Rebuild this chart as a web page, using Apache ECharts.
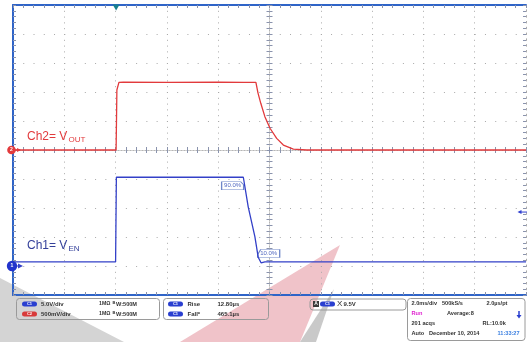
<!DOCTYPE html>
<html><head><meta charset="utf-8">
<script src="https://cdn.jsdelivr.net/npm/echarts@6/dist/echarts.min.js"></script>
<style>html,body{margin:0;padding:0;background:#fff}#c{width:527px;height:342px}</style>
</head><body><div id="c"></div><script>
// ---- data (time in ms relative to screen centre, amplitude in divisions from centre) ----
const redTime = [-10, -8, -7, -5.98, -5.95, -5.87, -5.7, -4, -2, -1, -0.53, -0.45, -0.34, -0.18, 0.02, 0.28, 0.54, 0.93, 1.45, 2.5, 4, 6, 8, 10];
const redDiv  = [0.0, 0.0, 0.0, 0.0, 2.07, 2.33, 2.34, 2.33, 2.34, 2.33, 2.33, 1.97, 1.61, 1.15, 0.75, 0.40, 0.17, 0.03, 0.0, 0.0, 0.0, 0.0, 0.0, 0.0];
const blueTime = [-10, -8, -6, -5.98, -5.97, -5, -3, -1.5, -1.02, -0.83, -0.57, -0.44, -0.33, -0.18, 2, 5, 8, 10];
const blueDiv  = [-3.86, -3.86, -3.86, -3.86, -0.94, -0.94, -0.94, -0.94, -0.94, -1.96, -2.99, -3.70, -3.89, -3.86, -3.86, -3.86, -3.86, -3.86];
const measLabels = ['90.0%', '10.0%'];
const measTime = [-0.97, -0.46];
const measLevel = [-1.23, -3.57];
const ch2Ground = 0, ch1Ground = -4;
const triggerTime = -5.98, triggerLevel = -2.14;
const scaleRows = [['C1', '5.0V/div', '1MΩ', 'W:500M'], ['C2', '500mV/div', '1MΩ', 'W:500M']];
const measRows = [['C1', 'Rise', '12.80µs'], ['C1', 'Fall*', '465.1µs']];
const trigInfo = '9.5V';
const acqRows = [['2.0ms/div', '500kS/s', '2.0µs/pt'], ['Run', 'Average:8'], ['201 acqs', 'RL:10.0k'], ['Auto', 'December 10, 2014', '11:33:27']];

const RED = '#e23a3c', BLUE = '#3340c8', BORDER = '#2f64c8', GRIDC = '#a9a9a9', TICKC = '#8a93ad';
const FONT = '"Liberation Sans", Arial, sans-serif';
const zip = (a, b) => a.map((v, i) => [v, b[i]]);

const chart = echarts.init(document.getElementById('c'));
const tickAxisX = (pos, inside, line, split) => ({
  type: 'value', min: -10, max: 10, interval: 2, position: pos,
  axisLine: line, axisTick: {show: true, inside: inside, length: 3, lineStyle: {color: TICKC}},
  minorTick: {show: true, splitNumber: 5, length: 3, lineStyle: {color: TICKC}},
  axisLabel: {show: false}, splitLine: split || {show: false}
});
const tickAxisY = (pos, inside, line, split) => ({
  type: 'value', min: -5, max: 5, interval: 1, position: pos,
  axisLine: line, axisTick: {show: true, inside: inside, length: 3, lineStyle: {color: TICKC}},
  minorTick: {show: true, splitNumber: 5, length: 3, lineStyle: {color: TICKC}},
  axisLabel: {show: false}, splitLine: split || {show: false}
});
const centreLine = {color: '#b5b5b5', width: 1, type: [1, 2]};

const option = {
  backgroundColor: '#ffffff',
  animation: false,
  grid: {left: 13, top: 5, width: 513, height: 290, containLabel: false},
  xAxis: [
    tickAxisX('bottom', true, {onZero: false, lineStyle: {color: BORDER, width: 2}},
      {show: true, lineStyle: {color: GRIDC, width: 1, type: [1, 4.8]}}),
    tickAxisX('top', true, {onZero: false, lineStyle: {color: BORDER, width: 2}}),
    tickAxisX('bottom', true, {onZero: true, onZeroAxisIndex: 0, lineStyle: centreLine}),
    tickAxisX('bottom', false, {onZero: true, onZeroAxisIndex: 0, lineStyle: centreLine})
  ],
  yAxis: [
    tickAxisY('left', true, {onZero: false, lineStyle: {color: BORDER, width: 2}},
      {show: true, lineStyle: {color: GRIDC, width: 1, type: [1, 9.26]}}),
    tickAxisY('right', true, {onZero: false, show: true, lineStyle: {color: GRIDC, width: 1, type: [1, 4.8]}}),
    tickAxisY('left', true, {onZero: true, onZeroAxisIndex: 0, lineStyle: centreLine}),
    tickAxisY('left', false, {onZero: true, onZeroAxisIndex: 0, lineStyle: centreLine})
  ],
  series: [
    {type: 'line', name: 'Ch2', xAxisIndex: 0, yAxisIndex: 0, data: zip(redTime, redDiv), symbol: 'none',
      lineStyle: {color: RED, width: 1.3}, z: 5},
    {type: 'line', name: 'Ch1', xAxisIndex: 0, yAxisIndex: 0, data: zip(blueTime, blueDiv), symbol: 'none',
      lineStyle: {color: BLUE, width: 1.3}, z: 6,
      markPoint: {silent: true, animation: false,
        data: [
          {coord: [measTime[0], measLevel[0]], symbol: 'path://M0,0H19L22,3L22,8H0Z', symbolSize: [22, 8], symbolOffset: [-12, 0],
            itemStyle: {color: '#fff', borderColor: '#6f86c8', borderWidth: 0.8},
            label: {show: true, position: 'inside', formatter: measLabels[0], color: '#5268c0', fontSize: 6, fontFamily: FONT}},
          {coord: [measTime[1], measLevel[1]], symbol: 'path://M3,0H22V8H0V5Z', symbolSize: [22, 8], symbolOffset: [11, 0],
            itemStyle: {color: '#fff', borderColor: '#6f86c8', borderWidth: 0.8},
            label: {show: true, position: 'inside', formatter: measLabels[1], color: '#5268c0', fontSize: 6, fontFamily: FONT}}
        ]}}
  ]
};
chart.setOption(option);

const px = (t, v) => chart.convertToPixel({xAxisIndex: 0, yAxisIndex: 0}, [t, v]);
function T(x, y, text, fill, size, weight, align) {
  return {type: 'text', x: x, y: y, z: 20, style: {text: text, fill: fill || '#333', fontSize: size || 6,
    fontWeight: weight || 'bold', fontFamily: FONT, verticalAlign: 'middle', align: align || 'left'}};
}
function Pill(x, y, label, color) {
  return [{type: 'rect', z: 20, shape: {x: x, y: y - 2.5, width: 15, height: 5, r: 2.5}, style: {fill: color}},
    {type: 'text', z: 21, x: x + 7.5, y: y, style: {text: label, fill: '#fff', fontSize: 4, fontWeight: 'bold',
      align: 'center', verticalAlign: 'middle', fontFamily: FONT}}];
}
function Box(x, y, w, h) {
  return {type: 'rect', z: 19, shape: {x: x, y: y, width: w, height: h, r: 3},
    style: {fill: 'rgba(255,255,255,0)', stroke: '#9a9a9a', lineWidth: 1}};
}

const g = [];
// background watermark
g.push({type: 'polygon', z: -5, shape: {points: [[0, 278], [124, 342], [0, 342]]}, style: {fill: '#d4d4d4'}});
g.push({type: 'polygon', z: -5, shape: {points: [[340, 245], [180, 342], [300, 342]]}, style: {fill: '#f0c3c9'}});
g.push({type: 'polygon', z: -4, shape: {points: [[334, 289], [300, 342], [316, 342]]}, style: {fill: '#c9c9c9'}});

// channel ground markers
const r0 = px(-10, ch2Ground), b0 = px(-10, ch1Ground);
g.push({type: 'line', z: 15, shape: {x1: 12, y1: r0[1], x2: 20, y2: r0[1]}, style: {stroke: RED, lineWidth: 1}});
g.push({type: 'polygon', z: 15, shape: {points: [[17, r0[1] - 2], [21, r0[1]], [17, r0[1] + 2]]}, style: {fill: RED}});
g.push({type: 'circle', z: 16, shape: {cx: 11.5, cy: r0[1], r: 4.3}, style: {fill: RED}});
g.push({type: 'text', z: 17, x: 11.5, y: r0[1], style: {text: '2', fill: '#fff', fontSize: 5, fontWeight: 'bold', align: 'center', verticalAlign: 'middle', fontFamily: FONT}});
g.push({type: 'line', z: 15, shape: {x1: 12, y1: b0[1], x2: 21, y2: b0[1]}, style: {stroke: BLUE, lineWidth: 1}});
g.push({type: 'polygon', z: 15, shape: {points: [[18, b0[1] - 2.5], [23, b0[1]], [18, b0[1] + 2.5]]}, style: {fill: BLUE}});
g.push({type: 'circle', z: 16, shape: {cx: 12, cy: b0[1], r: 5.2}, style: {fill: '#2233cc'}});
g.push({type: 'text', z: 17, x: 12, y: b0[1], style: {text: '1', fill: '#fff', fontSize: 5, fontWeight: 'bold', align: 'center', verticalAlign: 'middle', fontFamily: FONT}});

// trigger position & level
const tp = px(triggerTime, 5);
g.push({type: 'polygon', z: 15, shape: {points: [[tp[0] - 3.5, 4.5], [tp[0] + 3.5, 4.5], [tp[0], 10.5]]}, style: {fill: '#17808f'}});
const tl = px(10, triggerLevel);
g.push({type: 'polygon', z: 15, shape: {points: [[517.5, tl[1]], [521.5, tl[1] - 2], [521.5, tl[1] + 2]]}, style: {fill: '#2f3fd0'}});
g.push({type: 'line', z: 15, shape: {x1: 521, y1: tl[1], x2: 527, y2: tl[1]}, style: {stroke: '#2f3fd0', lineWidth: 1}});

// channel captions
g.push({type: 'text', z: 15, x: 27, y: 137, style: {text: 'Ch2= V', fill: RED, fontSize: 12, fontFamily: FONT, verticalAlign: 'middle'}});
g.push({type: 'text', z: 15, x: 68.5, y: 140, style: {text: 'OUT', fill: RED, fontSize: 8, fontFamily: FONT, verticalAlign: 'middle'}});
g.push({type: 'text', z: 15, x: 27, y: 246, style: {text: 'Ch1= V', fill: '#34409a', fontSize: 12, fontFamily: FONT, verticalAlign: 'middle'}});
g.push({type: 'text', z: 15, x: 68.5, y: 249, style: {text: 'EN', fill: '#34409a', fontSize: 8, fontFamily: FONT, verticalAlign: 'middle'}});

// info boxes
g.push(Box(16.5, 298.5, 143, 21));
const rowY = [304, 314];
scaleRows.forEach((r, i) => {
  g.push(...Pill(22, rowY[i], r[0], i === 0 ? '#2a3fd0' : '#d83a3a'));
  g.push(T(41, rowY[i], r[1]));
  g.push(T(99, rowY[i], r[2], '#333', 5.2));
  g.push(T(112.5, rowY[i] - 1.5, 'B', '#333', 4));
  g.push(T(116, rowY[i] + 0.5, r[3], '#333', 5.6));
});
g.push(Box(163.5, 298.5, 105, 21));
measRows.forEach((r, i) => {
  g.push(...Pill(168, rowY[i], r[0], '#2a3fd0'));
  g.push(T(187.5, rowY[i], r[1]));
  g.push(T(217.5, rowY[i], r[2]));
});
g.push(Box(310, 299, 96, 11));
g.push({type: 'rect', z: 20, shape: {x: 313, y: 301, width: 6, height: 6}, style: {fill: '#3a3a3a'}});
g.push(T(316, 304, 'A', '#fff', 5, 'bold', 'center'));
g.push(...Pill(320, 304, 'C1', '#2a3fd0'));
g.push(T(337, 304, 'X', '#333', 8, 'normal'));
g.push(T(343.5, 304, trigInfo));
g.push(Box(407.5, 298.5, 117.5, 42));
const aY = [303.5, 313.5, 323, 333];
g.push(T(411.5, aY[0], acqRows[0][0], '#333', 5.6));
g.push(T(442, aY[0], acqRows[0][1], '#333', 5.6));
g.push(T(486.5, aY[0], acqRows[0][2], '#333', 5.6));
g.push(T(411.5, aY[1], acqRows[1][0], '#e020d0', 5.6));
g.push(T(447, aY[1], acqRows[1][1], '#333', 5.6));
g.push({type: 'line', z: 20, shape: {x1: 519, y1: 311, x2: 519, y2: 316}, style: {stroke: '#2a3fd0', lineWidth: 1.5}});
g.push({type: 'polygon', z: 20, shape: {points: [[516.5, 315], [521.5, 315], [519, 318.5]]}, style: {fill: '#2a3fd0'}});
g.push(T(411.5, aY[2], acqRows[2][0], '#333', 5.6));
g.push(T(482.5, aY[2], acqRows[2][1], '#333', 5.6));
g.push(T(411.5, aY[3], acqRows[3][0], '#333', 5.6));
g.push(T(429, aY[3], acqRows[3][1], '#333', 5.6));
g.push(T(497.5, aY[3], acqRows[3][2], '#3a7fe0', 5.6));

chart.setOption({graphic: {elements: g}});
</script></body></html>
